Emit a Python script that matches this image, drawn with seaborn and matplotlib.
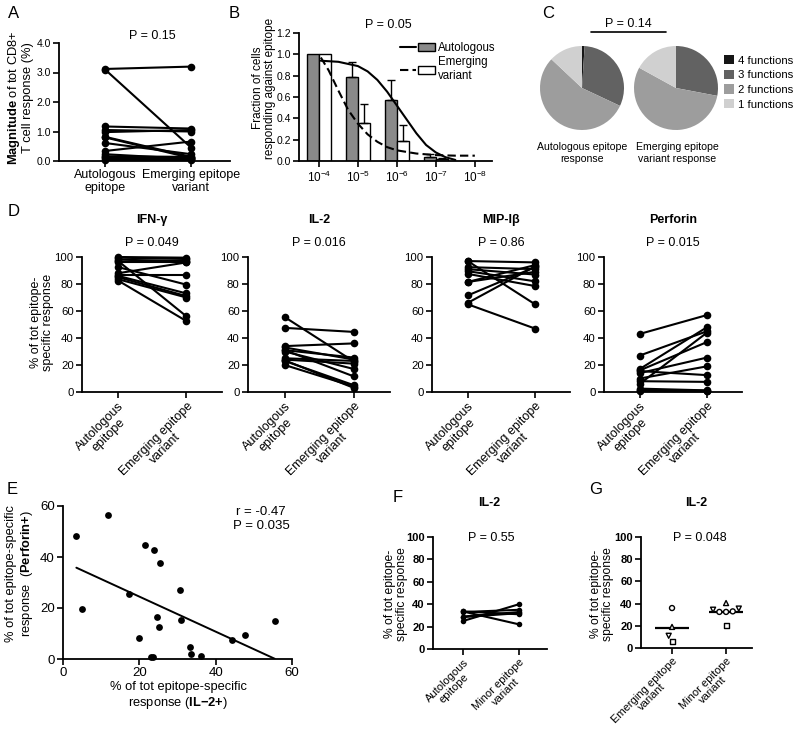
import numpy as np
import pandas as pd
import matplotlib
matplotlib.use("Agg")
import matplotlib.pyplot as plt
import seaborn as sns
from matplotlib.lines import Line2D
from matplotlib.patches import Patch
from matplotlib.legend_handler import HandlerTuple
from matplotlib.markers import MarkerStyle

# ---------------- DATA ----------------
# Panel A
a_cats = ['Autologous\nepitope', 'Emerging epitope\nvariant']
a_autologous = [3.12, 3.10, 1.17, 1.05, 0.98, 0.82, 0.80, 0.61, 0.34, 0.23, 0.16, 0.12, 0.09, 0.05]
a_emerging = [3.20, 0.45, 1.10, 1.00, 1.05, 0.14, 0.10, 0.23, 0.66, 0.07, 0.14, 0.08, 0.10, 0.05]

# Panel B
b_conc_exp = [4, 5, 6, 7]          # peptide concentration 10^-n
b_tick_exp = [4, 5, 6, 7, 8]
b_auto = [1.0, 0.79, 0.57, 0.035]
b_auto_err = [0.0, 0.14, 0.185, 0.03]
b_emer = [1.0, 0.36, 0.19, 0.02]
b_emer_err = [0.0, 0.17, 0.145, 0.012]
b_fit_auto_x = [4.05, 4.5, 5.0, 5.25, 5.5, 5.75, 6.0, 6.25, 6.5, 6.75, 7.0, 7.25, 7.5]
b_fit_auto_y = [0.94, 0.93, 0.89, 0.84, 0.76, 0.65, 0.52, 0.39, 0.26, 0.15, 0.08, 0.035, 0.01]
b_fit_emer_x = [4.05, 4.25, 4.5, 4.75, 5.0, 5.25, 5.5, 5.75, 6.0, 6.5, 7.0, 7.5, 8.0]
b_fit_emer_y = [0.97, 0.85, 0.66, 0.48, 0.35, 0.25, 0.18, 0.13, 0.10, 0.07, 0.055, 0.05, 0.05]

# Panel C
c_labels = ['4 functions', '3 functions', '2 functions', '1 functions']
c_autologous = [1, 31, 55, 13]
c_emerging = [0, 28, 55, 17]
c_colors = ['#161616', '#626262', '#9d9d9d', '#d0d0d0']

# Panel D
d_cats = ['Autologous\nepitope', 'Emerging epitope\nvariant']
ifn_auto = [100, 99.5, 98, 97, 96, 92.5, 88, 87, 86, 85, 83.5, 82.5]
ifn_emer = [99.5, 98.5, 97, 56, 96, 79.5, 96, 87, 73, 71, 70, 52.5]
il2_auto = [55.5, 47.5, 34, 33, 31, 31, 30, 25, 24, 23.5, 23, 20]
il2_emer = [22.5, 44.5, 36, 24, 25.5, 11.5, 17, 23, 21, 3, 5, 4]
mip_auto = [97, 97, 92.5, 91, 89.5, 87.5, 81.5, 81.5, 71.5, 66, 65]
mip_emer = [96, 65, 91, 87, 82, 78.5, 94, 89, 92.5, 93, 47]
perf_auto = [43, 27, 17, 16, 15.5, 14, 10, 8, 6, 2.5, 1.5, 0.7]
perf_emer = [57, 45, 48, 37, 12.5, 25.5, 19, 7.5, 44, 1.2, 1.0, 0.5]

# Panel E
e_il2 = [3.5, 11.8, 21.4, 23.8, 25.4, 30.7, 17.3, 5.1, 24.7, 31.0, 25.2, 19.9, 33.2, 33.6, 36.2, 23.1, 23.6, 44.3, 47.8, 55.5]
e_perf = [48.1, 56.5, 44.8, 42.9, 37.5, 26.9, 25.3, 19.5, 16.5, 15.1, 12.5, 8.1, 4.9, 2.0, 1.2, 0.9, 0.9, 7.5, 9.3, 14.8]

# Panel F
f_cats = ['Autologous\nepitope', 'Minor epitope\nvariant']
f_autologous = [25, 33.5, 29, 28.5, 33, 33.5]
f_minor = [40, 22, 33, 32, 35, 31]

# Panel G
g_cats = ['Emerging epitope\nvariant', 'Minor epitope\nvariant']
g_emerging = [36, 19, 11, 6]
g_minor = [34.5, 33, 32.5, 32.5, 40.5, 35.5, 20]
g_emerging_shapes = ['o', '^', 'v', 's']
g_minor_shapes = ['v', 'o', 'o', 'o', '^', 'v', 's']

# ---------------- STYLE ----------------
sns.set_theme(style="ticks")
plt.rcParams['font.family'] = ['Liberation Sans', 'DejaVu Sans']
plt.rcParams['mathtext.fontset'] = 'custom'
plt.rcParams['mathtext.rm'] = 'Liberation Sans'
plt.rcParams['mathtext.it'] = 'Liberation Sans:italic'
plt.rcParams['mathtext.bf'] = 'Liberation Sans:bold'
plt.rcParams['axes.edgecolor'] = 'black'
plt.rcParams['text.color'] = 'black'

W, H = 800, 736
fig = plt.figure(figsize=(8, 7.36), dpi=100)


def rect(l, r, top, bottom):
    return [l / W, 1 - bottom / H, (r - l) / W, (bottom - top) / H]


def ftext(x, y, s, **kw):
    kw.setdefault('ha', 'center')
    kw.setdefault('va', 'center')
    return fig.text(x / W, 1 - y / H, s, **kw)


def style(ax, fs=7.5):
    sns.despine(ax=ax)
    for s in ['left', 'bottom']:
        ax.spines[s].set_linewidth(1.3)
        ax.spines[s].set_color('black')
    ax.tick_params(axis='both', direction='out', length=4, width=1.2,
                   labelsize=fs, colors='black', pad=2)


def paired(ax, before, after, cats, ms=5.5, rot=True, cat_fs=9):
    n = len(before)
    df = pd.DataFrame({'pos': [0] * n + [1] * n,
                       'value': list(before) + list(after),
                       'pair': list(range(n)) * 2})
    sns.lineplot(data=df, x='pos', y='value', units='pair', estimator=None,
                 color='black', lw=1.5, marker='o', markersize=ms,
                 markeredgewidth=0, clip_on=False, legend=False, ax=ax)
    ax.set_xticks([0, 1])
    if rot:
        ax.set_xticklabels(cats, rotation=45, ha='right', rotation_mode='anchor',
                           ma='center', fontsize=cat_fs, linespacing=1.05)
    else:
        ax.set_xticklabels(cats, fontsize=cat_fs, ma='center', linespacing=1.1)
    ax.set_xlabel('')
    ax.set_ylabel('')


# ---------------- PANEL A ----------------
axA = fig.add_axes(rect(59, 230, 43, 161))
paired(axA, a_autologous, a_emerging, a_cats, ms=5.5, rot=False, cat_fs=9)
axA.set_xlim(-0.535, 1.45)
axA.set_ylim(0, 4)
axA.set_yticks([0, 1, 2, 3, 4])
axA.set_yticklabels([f'{v:.1f}' for v in [0, 1, 2, 3, 4]])
style(axA, 7.5)
axA.tick_params(axis='x', labelsize=9)
ftext(152, 36, 'P = 0.15', fontsize=9)
ftext(20, 98, r'$\mathbf{Magnitude}$ of tot CD8+' + '\n' + 'T cell response (%)',
      rotation=90, fontsize=9.3, ma='center', linespacing=1.1)
ftext(14, 14, 'A', fontsize=12)

# ---------------- PANEL B ----------------
axB = fig.add_axes(rect(299, 492, 33, 161))
bdf = pd.DataFrame({'conc': b_conc_exp * 2,
                    'frac': b_auto + b_emer,
                    'peptide': ['Autologous'] * len(b_auto) + ['Emerging'] * len(b_emer)})
sns.barplot(data=bdf, x='conc', y='frac', hue='peptide', native_scale=True,
            palette=['#8a8a8a', 'white'], edgecolor='black', linewidth=1,
            width=0.62, errorbar=None, legend=False, ax=axB)
bars = list(axB.patches)
vals = b_auto + b_emer
errs = b_auto_err + b_emer_err
for p, v, e in zip(bars, vals, errs):
    if e > 0:
        axB.errorbar(p.get_x() + p.get_width() / 2, v, yerr=[[0], [e]], fmt='none',
                     ecolor='black', elinewidth=1, capsize=3, capthick=1)
sns.lineplot(x=b_fit_auto_x, y=b_fit_auto_y, color='black', lw=1.5, ax=axB)
sns.lineplot(x=b_fit_emer_x, y=b_fit_emer_y, color='black', lw=1.5, ax=axB,
             linestyle=(0, (4, 2)))
axB.set_xlim(3.49, 8.44)
axB.set_xticks(b_tick_exp)
axB.set_xticklabels([rf'$10^{{-{e}}}$' for e in b_tick_exp])
axB.set_ylim(0, 1.2)
axB.set_yticks(np.arange(0, 1.21, 0.2))
axB.set_yticklabels([f'{v:.1f}' for v in np.arange(0, 1.21, 0.2)])
axB.set_xlabel('')
axB.set_ylabel('')
style(axB, 7.5)
axB.tick_params(axis='x', labelsize=8.5)
handles = [(Line2D([], [], color='black', lw=1.5), Patch(fc='#8a8a8a', ec='black')),
           (Line2D([], [], color='black', lw=1.5, ls=(0, (4, 2))), Patch(fc='white', ec='black'))]
fig.legend(handles, ['Autologous', 'Emerging\nvariant'],
           handler_map={tuple: HandlerTuple(ndivide=None, pad=0.2)},
           loc='upper left', bbox_to_anchor=(400 / W, 1 - 42 / H), frameon=False,
           fontsize=8.3, handlelength=3.0, handletextpad=0.3, labelspacing=0.2,
           borderaxespad=0, borderpad=0)
ftext(388, 25, 'P = 0.05', fontsize=9)
ftext(264, 88, 'Fraction of cells\nresponding against epitope', rotation=90,
      fontsize=8.5, ma='center', linespacing=1.05)
ftext(234, 14, 'B', fontsize=12)

# ---------------- PANEL C ----------------
for (l, r), vals_c in [((540, 624), c_autologous), ((634, 718), c_emerging)]:
    axc = fig.add_axes(rect(l, r, 46, 130))
    axc.pie(vals_c, colors=c_colors, startangle=90, counterclock=False,
            wedgeprops=dict(linewidth=0))
    axc.set_xlim(-1, 1)
    axc.set_ylim(-1, 1)
    axc.set_aspect('equal')
fig.legend([Patch(fc=c, ec='none') for c in c_colors], c_labels,
           loc='upper left', bbox_to_anchor=(724 / W, 1 - 55 / H), frameon=False,
           fontsize=8.2, handlelength=0.9, handleheight=0.9, handletextpad=0.3,
           labelspacing=0.35, borderaxespad=0, borderpad=0)
ftext(628, 24, 'P = 0.14', fontsize=9)
fig.add_artist(Line2D([591 / W, 666 / W], [1 - 32 / H, 1 - 32 / H], color='black', lw=1.2))
ftext(582, 153, 'Autologous epitope\nresponse', fontsize=7.6, ma='center', linespacing=1.2)
ftext(677, 153, 'Emerging epitope\nvariant response', fontsize=7.6, ma='center', linespacing=1.2)
ftext(548, 14, 'C', fontsize=12)

# ---------------- PANEL D ----------------
d_specs = [((82, 222), ifn_auto, ifn_emer, 'IFN-γ', 'P = 0.049'),
           ((248, 390), il2_auto, il2_emer, 'IL-2', 'P = 0.016'),
           ((432, 570), mip_auto, mip_emer, 'MIP-Iβ', 'P = 0.86'),
           ((604, 742), perf_auto, perf_emer, 'Perforin', 'P = 0.015')]
for (l, r), before, after, title, ptxt in d_specs:
    ax = fig.add_axes(rect(l, r, 257, 392))
    paired(ax, before, after, d_cats, ms=5.5, cat_fs=9)
    ax.set_xlim(-0.53, 1.52)
    ax.set_ylim(0, 100)
    ax.set_yticks(range(0, 101, 20))
    style(ax, 8.2)
    ax.tick_params(axis='x', labelsize=9)
    cx = (l + r) / 2
    ftext(cx, 220, title, fontsize=9, fontweight='bold')
    ftext(cx, 243, ptxt, fontsize=9)
ftext(42, 322, '% of tot epitope-\nspecific response', rotation=90, fontsize=9,
      ma='center', linespacing=1.05)
ftext(14, 212, 'D', fontsize=12)

# ---------------- PANEL E ----------------
axE = fig.add_axes(rect(63, 292, 506, 659))
sns.regplot(x=e_il2, y=e_perf, ci=None, ax=axE,
            scatter_kws=dict(s=24, color='black', alpha=1, linewidths=0, clip_on=False),
            line_kws=dict(color='black', lw=1.4))
axE.set_xlim(0, 60)
axE.set_ylim(0, 60)
axE.set_xticks([0, 20, 40, 60])
axE.set_yticks([0, 20, 40, 60])
style(axE, 9.5)
ftext(261, 512, 'r = -0.47', fontsize=9.5)
ftext(261, 526, 'P = 0.035', fontsize=9.5)
ftext(20, 574, '% of tot epitope-specific\n' + r'response  ($\mathbf{Perforin{+}}$)',
      rotation=90, fontsize=9.3, ma='center', linespacing=1.1)
ftext(178, 696, '% of tot epitope-specific\n' + r'response ($\mathbf{IL{-}2{+}}$)',
      fontsize=9.3, ma='center', linespacing=1.15)
ftext(12, 490, 'E', fontsize=12)

# ---------------- PANEL F ----------------
axF = fig.add_axes(rect(433, 547, 537, 649))
paired(axF, f_autologous, f_minor, f_cats, ms=4, cat_fs=8)
axF.set_xlim(-0.536, 1.5)
axF.set_ylim(0, 100)
axF.set_yticks(range(0, 101, 20))
style(axF, 8)
axF.tick_params(axis='x', labelsize=8)
for t in axF.get_yticklabels():
    t.set_fontweight('bold')
ftext(489, 503, 'IL-2', fontsize=9, fontweight='bold')
ftext(491, 538, 'P = 0.55', fontsize=9)
ftext(396, 594, '% of tot epitope-\nspecific response', rotation=90, fontsize=8.7,
      ma='center', linespacing=1.05)
ftext(398, 497, 'F', fontsize=12)

# ---------------- PANEL G ----------------
axG = fig.add_axes(rect(641, 752, 537, 648))
gdf = pd.DataFrame({'group': [g_cats[0]] * len(g_emerging) + [g_cats[1]] * len(g_minor),
                    'value': g_emerging + g_minor})
sns.pointplot(data=gdf, x='group', y='value', order=g_cats, estimator='mean',
              errorbar=None, markers='_', linestyles='none', color='black',
              markersize=25, markeredgewidth=1.6, ax=axG)
n0 = len(axG.collections)
sns.swarmplot(data=gdf, x='group', y='value', order=g_cats, size=3.6,
              color='white', edgecolor='black', linewidth=1, ax=axG)
for coll, shapes in zip(axG.collections[n0:], [g_emerging_shapes, g_minor_shapes]):
    paths = []
    for m in shapes:
        mk = MarkerStyle(m)
        paths.append(mk.get_path().transformed(mk.get_transform()))
    coll.set_paths(paths)
axG.set_xticks([0, 1])
axG.set_xticklabels(g_cats, rotation=45, ha='right', rotation_mode='anchor',
                    ma='center', fontsize=8, linespacing=1.0)
axG.set_xlim(-0.574, 1.48)
axG.set_ylim(0, 100)
axG.set_yticks(range(0, 101, 20))
axG.set_xlabel('')
axG.set_ylabel('')
style(axG, 8)
axG.tick_params(axis='x', labelsize=8, pad=1.5)
for t in axG.get_yticklabels():
    t.set_fontweight('bold')
ftext(696, 503, 'IL-2', fontsize=9, fontweight='bold')
ftext(700, 538, 'P = 0.048', fontsize=9)
ftext(602, 594, '% of tot epitope-\nspecific response', rotation=90, fontsize=8.7,
      ma='center', linespacing=1.05)
ftext(596, 489, 'G', fontsize=12)

fig.savefig('out.png', dpi=100)
